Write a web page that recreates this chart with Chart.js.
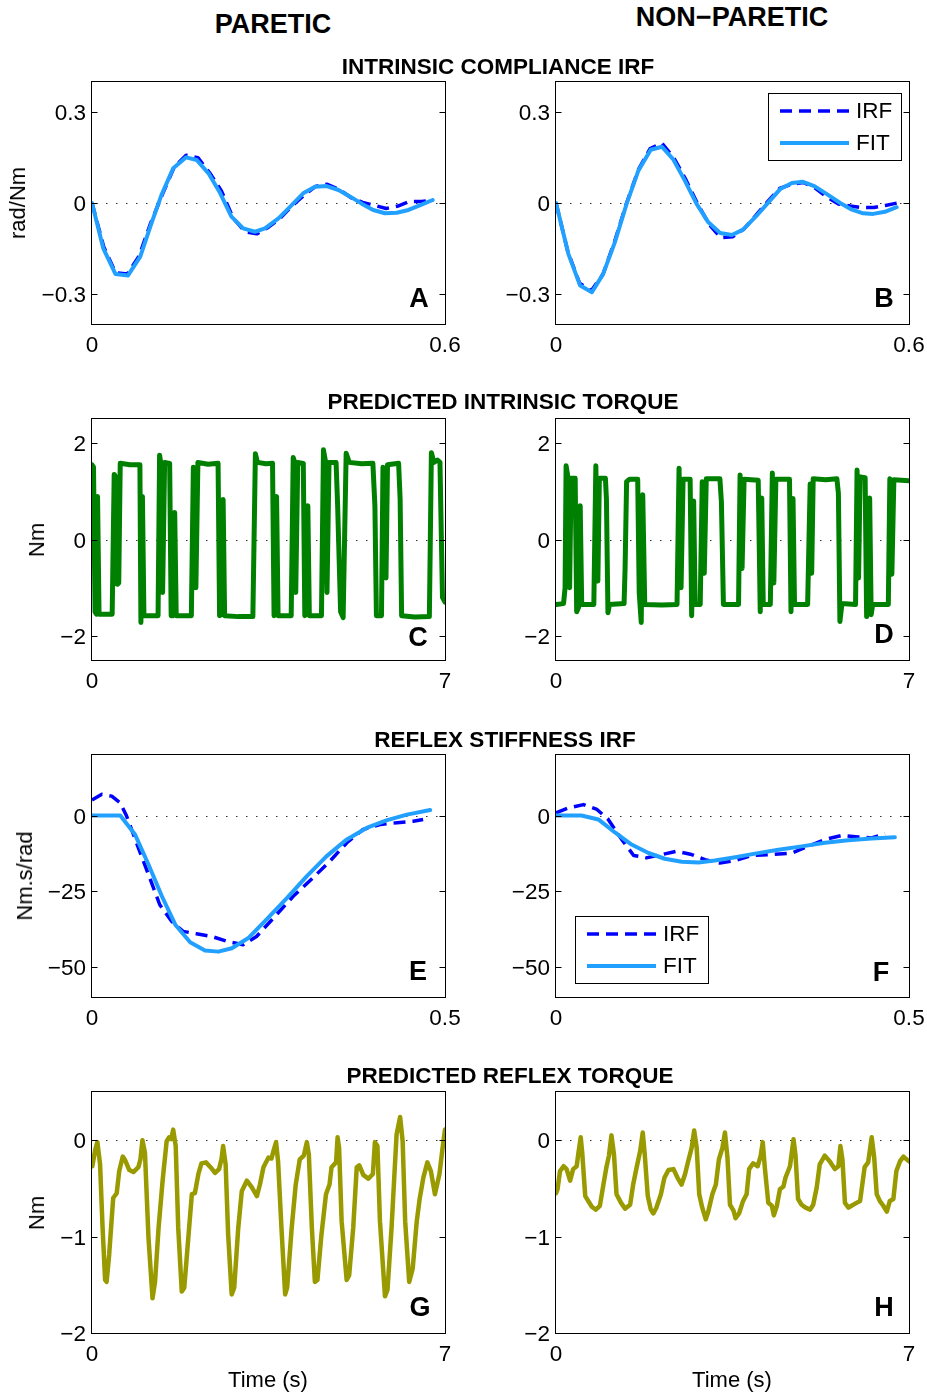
<!DOCTYPE html>
<html><head><meta charset="utf-8">
<script src="https://cdn.jsdelivr.net/npm/chart.js@4.4.1/dist/chart.umd.min.js"></script>
<style>
body{margin:0;background:#fff;width:927px;height:1393px;position:relative;overflow:hidden;font-family:"Liberation Sans",Arial,Helvetica,sans-serif;}
canvas{position:absolute;}
.t{position:absolute;transform:translate(-50%,-50%);white-space:nowrap;color:#000;line-height:1;font-size:22px;z-index:2;}
.b{font-weight:bold;}
.big{font-size:27px;}
.rt{font-size:22.5px;}
.r{transform:translate(-50%,-50%) rotate(-90deg);}
</style></head><body>
<div class="t b big" style="left:273px;top:24px">PARETIC</div>
<div class="t b big" style="left:732px;top:17px">NON&#8722;PARETIC</div>
<div class="t b rt" style="left:498px;top:67px">INTRINSIC COMPLIANCE IRF</div>
<div class="t b rt" style="left:503px;top:402px">PREDICTED INTRINSIC TORQUE</div>
<div class="t b rt" style="left:505px;top:740px">REFLEX STIFFNESS IRF</div>
<div class="t b rt" style="left:510px;top:1076px">PREDICTED REFLEX TORQUE</div>
<div class="t r" style="left:18px;top:203px">rad/Nm</div>
<div class="t r" style="left:37px;top:540px">Nm</div>
<div class="t r" style="left:25px;top:876px">Nm.s/rad</div>
<div class="t r" style="left:37px;top:1213px">Nm</div>
<div class="t" style="left:268px;top:1380px">Time (s)</div>
<div class="t" style="left:732px;top:1380px">Time (s)</div>
<div class="t b big" style="left:419px;top:298px">A</div>
<div class="t b big" style="left:884px;top:298px">B</div>
<div class="t b big" style="left:418px;top:637px">C</div>
<div class="t b big" style="left:884px;top:634px">D</div>
<div class="t b big" style="left:418px;top:971px">E</div>
<div class="t b big" style="left:881px;top:972px">F</div>
<div class="t b big" style="left:420px;top:1307px">G</div>
<div class="t b big" style="left:884px;top:1307px">H</div>
<script>
// ---------- DATA ----------
const aIrfT=[0,0.02,0.04,0.06,0.08,0.10,0.12,0.14,0.16,0.18,0.20,0.22,0.24,0.26,0.28,0.30,0.32,0.34,0.36,0.38,0.40,0.42,0.44,0.46,0.48,0.50,0.52,0.54,0.56,0.58];
const aIrfV=[0,-0.145,-0.230,-0.235,-0.175,-0.065,0.030,0.120,0.158,0.150,0.100,0.040,-0.050,-0.095,-0.102,-0.080,-0.050,-0.010,0.025,0.055,0.062,0.045,0.018,0.002,-0.008,-0.018,-0.010,0.005,0.005,0.010];
const aFitT=[0,0.019,0.040,0.061,0.082,0.101,0.118,0.138,0.160,0.178,0.198,0.218,0.237,0.257,0.277,0.294,0.317,0.337,0.359,0.379,0.399,0.419,0.439,0.459,0.478,0.498,0.518,0.538,0.558,0.579];
const aFitV=[0,-0.149,-0.235,-0.240,-0.177,-0.067,0.026,0.115,0.151,0.142,0.098,0.032,-0.045,-0.084,-0.095,-0.084,-0.051,-0.012,0.032,0.054,0.056,0.043,0.021,-0.003,-0.023,-0.034,-0.032,-0.023,-0.007,0.010];

const bIrfT=[0,0.02,0.04,0.06,0.08,0.10,0.12,0.14,0.16,0.18,0.20,0.22,0.24,0.26,0.28,0.30,0.32,0.34,0.36,0.38,0.40,0.42,0.44,0.46,0.48,0.50,0.52,0.54,0.56,0.58];
const bIrfV=[0,-0.160,-0.265,-0.290,-0.235,-0.125,0.000,0.110,0.180,0.198,0.150,0.080,0.000,-0.070,-0.115,-0.112,-0.085,-0.040,0.005,0.048,0.062,0.068,0.050,0.020,-0.003,-0.010,-0.015,-0.015,-0.008,0.000];
const bFitT=[0,0.021,0.041,0.061,0.080,0.100,0.120,0.140,0.161,0.180,0.199,0.219,0.239,0.259,0.279,0.299,0.318,0.341,0.361,0.381,0.401,0.420,0.440,0.463,0.483,0.503,0.522,0.539,0.559,0.579];
const bFitV=[0,-0.168,-0.273,-0.295,-0.235,-0.130,-0.003,0.107,0.176,0.186,0.145,0.074,-0.003,-0.064,-0.099,-0.106,-0.088,-0.042,0.002,0.046,0.066,0.070,0.055,0.026,0,-0.022,-0.034,-0.036,-0.029,-0.014];

const cT=[0.00,0.03,0.06,0.09,0.11,0.14,0.40,0.44,0.47,0.50,0.53,0.56,0.75,0.95,0.97,1.00,1.03,1.31,1.34,1.37,1.40,1.44,1.54,1.57,1.61,1.64,1.67,1.97,2.01,2.04,2.06,2.10,2.30,2.50,2.53,2.58,2.60,2.63,2.90,3.19,3.24,3.28,3.45,3.58,3.61,3.64,3.66,3.69,3.95,3.99,4.02,4.04,4.08,4.19,4.22,4.26,4.28,4.31,4.55,4.59,4.63,4.66,4.70,4.84,4.87,4.93,4.98,5.04,5.10,5.35,5.57,5.61,5.64,5.74,5.77,5.80,5.83,5.86,6.08,6.11,6.14,6.40,6.69,6.73,6.78,6.85,6.90,6.95,7.00];
const cV=[1.55,1.50,-1.50,-1.55,0.89,-1.55,-1.55,1.35,1.30,-0.93,-0.90,1.58,1.55,1.55,-1.72,0.89,-1.58,-1.58,1.75,1.55,-1.10,1.60,1.58,-1.58,-1.58,0.56,-1.58,-1.58,1.50,1.45,-1.00,1.60,1.56,1.58,-1.58,-1.55,0.83,-1.58,-1.60,-1.60,1.78,1.60,1.57,1.58,-1.58,-1.52,0.89,-1.58,-1.58,1.70,1.60,-1.10,1.60,1.58,-1.58,-1.52,0.70,-1.58,-1.58,1.86,1.62,-1.10,1.60,1.60,0.74,-1.50,-1.62,1.79,1.60,1.57,1.58,0.70,-1.58,-1.58,1.50,1.42,-0.80,1.55,1.58,0.85,-1.58,-1.61,-1.60,1.80,1.60,1.65,1.60,-1.20,-1.30];

const dT=[0.00,0.15,0.18,0.20,0.24,0.27,0.30,0.38,0.41,0.45,0.48,0.51,0.75,0.79,0.83,0.86,0.98,1.00,1.03,1.06,1.35,1.37,1.40,1.46,1.62,1.65,1.69,1.72,1.76,2.10,2.40,2.44,2.48,2.52,2.66,2.69,2.73,2.76,2.86,2.90,2.94,2.98,3.25,3.28,3.32,3.62,3.65,3.69,3.73,4.01,4.05,4.08,4.11,4.25,4.29,4.32,4.36,4.63,4.66,4.70,4.73,4.99,5.04,5.07,5.10,5.35,5.57,5.60,5.63,5.67,5.94,5.97,6.00,6.03,6.13,6.16,6.19,6.22,6.25,6.28,6.59,6.62,6.66,6.70,7.00];
const dV=[-1.35,-1.33,-1.00,1.53,1.27,-1.00,1.27,1.27,-1.50,-1.40,0.70,-1.35,-1.35,1.53,-0.86,1.27,1.27,0.84,-1.52,-1.35,-1.33,-0.60,1.20,1.25,1.25,-1.10,-1.72,0.93,-1.35,-1.36,-1.35,1.48,-1.00,1.25,1.25,-1.58,0.80,-1.35,-1.35,1.20,-0.70,1.26,1.26,0.78,-1.35,-1.35,1.34,-0.60,1.25,1.23,-1.50,0.86,-1.35,-1.35,1.38,-0.90,1.25,1.25,-1.50,0.85,-1.35,-1.35,1.15,-0.70,1.26,1.24,1.26,0.96,-1.70,-1.33,-1.35,1.44,-0.80,1.30,1.28,-1.60,-1.45,0.86,-1.56,-1.35,-1.35,1.26,-0.72,1.24,1.22];

const eIrfT=[0,0.014,0.028,0.040,0.049,0.063,0.080,0.096,0.113,0.129,0.148,0.170,0.191,0.214,0.233,0.257,0.285,0.313,0.337,0.361,0.384,0.408,0.432,0.455,0.469];
const eIrfV=[5.1,7.0,6.4,4.2,-0.2,-9.0,-19.5,-29.5,-35.0,-38.3,-39.1,-40.0,-41.6,-42.7,-40.0,-33.9,-26.7,-20.6,-15.1,-9.0,-4.6,-3.0,-2.4,-1.9,-1.3];
const eFitT=[0,0.040,0.061,0.080,0.099,0.118,0.139,0.160,0.179,0.198,0.221,0.247,0.276,0.304,0.332,0.361,0.389,0.417,0.446,0.479];
const eFitV=[0,0,-6.3,-16.2,-26.7,-36.1,-41.9,-44.6,-45.0,-43.9,-40.6,-34.4,-27.3,-20.1,-13.5,-7.9,-4.1,-1.6,0.3,1.8];

const fIrfT=[0,0.017,0.039,0.058,0.074,0.093,0.110,0.128,0.150,0.171,0.192,0.211,0.232,0.254,0.277,0.306,0.334,0.357,0.381,0.405,0.428,0.447,0.466];
const fIrfV=[0.9,2.5,3.6,2.0,-1.3,-7.9,-13.2,-14.0,-12.9,-11.8,-12.9,-14.6,-15.7,-14.9,-13.2,-12.9,-12.4,-10.2,-7.9,-6.6,-7.1,-7.4,-6.0];
const fFitT=[0,0.036,0.060,0.084,0.107,0.131,0.154,0.178,0.202,0.225,0.254,0.282,0.315,0.348,0.381,0.414,0.447,0.480];
const fFitV=[0,0,-1.3,-5.7,-9.6,-12.4,-14.3,-15.3,-15.5,-14.9,-13.8,-12.6,-11.3,-10.2,-9.0,-8.2,-7.6,-7.2];

const gT=[0.007,0.06,0.106,0.16,0.21,0.26,0.29,0.34,0.42,0.49,0.54,0.61,0.65,0.74,0.82,0.92,0.96,1.00,1.05,1.12,1.20,1.25,1.32,1.40,1.48,1.53,1.57,1.61,1.66,1.71,1.78,1.83,1.91,1.98,2.04,2.11,2.17,2.26,2.35,2.44,2.52,2.57,2.60,2.65,2.70,2.77,2.82,2.90,2.97,3.07,3.17,3.27,3.33,3.40,3.50,3.56,3.61,3.65,3.69,3.76,3.83,3.87,3.96,4.04,4.12,4.20,4.26,4.30,4.36,4.42,4.47,4.55,4.64,4.71,4.75,4.84,4.87,4.90,4.95,5.05,5.10,5.18,5.25,5.30,5.38,5.48,5.57,5.61,5.66,5.71,5.81,5.86,5.94,6.04,6.11,6.16,6.21,6.29,6.36,6.44,6.50,6.57,6.65,6.72,6.80,6.89,6.95,7.00];
const gV=[-0.27,-0.11,-0.02,-0.25,-0.91,-1.45,-1.47,-1.19,-0.60,-0.55,-0.32,-0.17,-0.20,-0.31,-0.33,-0.28,-0.20,0.00,-0.13,-1.01,-1.64,-1.47,-0.91,-0.42,-0.01,0.03,0.01,0.11,-0.06,-0.91,-1.57,-1.53,-1.01,-0.56,-0.55,-0.35,-0.24,-0.23,-0.28,-0.34,-0.30,-0.19,-0.06,-0.25,-0.98,-1.60,-1.53,-0.91,-0.53,-0.42,-0.49,-0.58,-0.46,-0.28,-0.18,-0.19,-0.09,-0.02,-0.22,-0.94,-1.60,-1.53,-0.91,-0.46,-0.20,-0.16,-0.02,-0.15,-0.91,-1.47,-1.45,-0.98,-0.56,-0.46,-0.28,-0.23,0.03,-0.08,-0.84,-1.45,-1.40,-0.91,-0.28,-0.26,-0.36,-0.40,-0.35,-0.02,-0.06,-0.84,-1.62,-1.55,-0.91,0.06,0.24,-0.01,-0.84,-1.47,-1.33,-0.84,-0.60,-0.39,-0.23,-0.32,-0.56,-0.35,-0.09,0.11];

const hT=[0.00,0.03,0.08,0.15,0.21,0.28,0.34,0.41,0.44,0.49,0.52,0.58,0.64,0.71,0.79,0.87,0.94,1.00,1.05,1.10,1.15,1.20,1.29,1.37,1.47,1.53,1.60,1.67,1.72,1.76,1.82,1.88,1.93,1.99,2.08,2.15,2.23,2.33,2.41,2.49,2.56,2.62,2.69,2.74,2.79,2.84,2.90,2.97,3.02,3.10,3.17,3.23,3.30,3.35,3.40,3.45,3.52,3.56,3.63,3.71,3.78,3.83,3.91,4.00,4.06,4.10,4.14,4.21,4.28,4.32,4.38,4.44,4.51,4.55,4.64,4.71,4.75,4.80,4.87,4.95,5.04,5.10,5.17,5.23,5.33,5.43,5.53,5.60,5.64,5.68,5.73,5.80,5.86,5.96,6.03,6.12,6.19,6.26,6.31,6.36,6.42,6.49,6.56,6.62,6.69,6.75,6.82,6.89,7.00];
const hV=[-0.55,-0.51,-0.32,-0.27,-0.30,-0.42,-0.30,-0.27,-0.15,0.03,-0.13,-0.58,-0.63,-0.69,-0.72,-0.68,-0.46,-0.28,-0.16,0.05,-0.15,-0.56,-0.65,-0.71,-0.67,-0.46,-0.28,-0.11,0.08,-0.15,-0.58,-0.72,-0.76,-0.70,-0.56,-0.39,-0.31,-0.30,-0.39,-0.46,-0.35,-0.22,-0.08,0.10,-0.08,-0.56,-0.70,-0.82,-0.74,-0.56,-0.46,-0.20,-0.08,0.08,-0.18,-0.67,-0.73,-0.81,-0.76,-0.63,-0.56,-0.30,-0.24,-0.27,-0.16,-0.02,-0.28,-0.65,-0.68,-0.78,-0.68,-0.51,-0.48,-0.39,-0.27,0.01,-0.16,-0.61,-0.67,-0.70,-0.72,-0.67,-0.49,-0.25,-0.16,-0.22,-0.30,-0.27,-0.06,-0.20,-0.65,-0.70,-0.68,-0.65,-0.63,-0.28,-0.23,0.03,-0.18,-0.56,-0.63,-0.68,-0.74,-0.63,-0.61,-0.32,-0.22,-0.17,-0.22];

const xTicksIRF1=[0,0.6], xTicksTorque=[0,7], xTicksIRF2=[0,0.5];
const yTicksA=[-0.3,0,0.3], yTicksC=[-2,0,2], yTicksE=[-50,-25,0], yTicksG=[-2,-1,0];

// ---------- DRAWING ----------
const IRF_COLOR='#0000ff', FIT_COLOR='#22a0ff', GREEN='#008000', OLIVE='#999900';
Chart.defaults.font.family='"Liberation Sans", Arial, Helvetica, sans-serif';
Chart.defaults.font.size=22.5;
Chart.defaults.color='#000';

function pts(t,v){return t.map((x,i)=>({x:x,y:v[i]}));}
function fmt(v){const n=Number(Math.abs(v).toFixed(3)).toString();return v<0?'\u2212'+n:n;}

const framePlugin={id:'frame',
  beforeDatasetsDraw(chart,args,opts){
    const {ctx,chartArea:a,scales:{y}}=chart;
    const y0=Math.round(y.getPixelForValue(0))+0.5;
    ctx.save();ctx.strokeStyle='#333';ctx.lineWidth=1;ctx.setLineDash([1.5,8.5]);
    ctx.beginPath();ctx.moveTo(a.left+4,y0);ctx.lineTo(a.right,y0);ctx.stroke();ctx.restore();
  },
  afterDatasetsDraw(chart,args,opts){
    const {ctx,chartArea:a,scales:{y}}=chart;
    ctx.save();ctx.strokeStyle='#000';ctx.lineWidth=1;ctx.setLineDash([]);
    const L=Math.round(a.left)-0.5,T=Math.round(a.top)-0.5,R=Math.round(a.right)+0.5,B=Math.round(a.bottom)+0.5;
    ctx.strokeRect(L,T,R-L,B-T);
    ctx.beginPath();
    (opts.yTicks||[]).forEach(v=>{const p=Math.round(y.getPixelForValue(v))+0.5;ctx.moveTo(L,p);ctx.lineTo(L+6,p);ctx.moveTo(R-6,p);ctx.lineTo(R,p);});
    ctx.stroke();
    const lg=opts.legend;
    if(lg){
      const bw=133,bh=67;
      const bx=Math.round(lg.right!==undefined?a.right-lg.right-bw:a.left+lg.left);
      const by=Math.round(lg.top!==undefined?a.top+lg.top:a.bottom-lg.bottom-bh);
      ctx.fillStyle='#fff';ctx.fillRect(bx,by,bw,bh);
      ctx.strokeRect(bx+0.5,by+0.5,bw,bh);
      chart.data.datasets.forEach((d,i)=>{
        const ly=by+18+32*i;
        ctx.save();ctx.strokeStyle=d.borderColor;ctx.lineWidth=d.borderWidth;ctx.setLineDash(d.borderDash||[]);
        ctx.beginPath();ctx.moveTo(bx+12,ly);ctx.lineTo(bx+81,ly);ctx.stroke();ctx.restore();
        ctx.fillStyle='#000';ctx.font='22.5px "Liberation Sans", Arial, sans-serif';ctx.textBaseline='middle';ctx.textAlign='left';
        ctx.fillText(d.label,bx+88,ly+1);
      });
    }
    ctx.restore();
  }
};

const PADL=80,PADT=25,PADR=30,PADB=45;
function makePanel(box,xMax,yMin,yMax,xTicks,yTicks,datasets,legend){
  const c=document.createElement('canvas');
  const w=box[2]-box[0],h=box[3]-box[1];
  c.width=w+PADL+PADR;c.height=h+PADT+PADB;
  c.style.left=(box[0]-PADL)+'px';c.style.top=(box[1]-PADT)+'px';
  document.body.appendChild(c);
  new Chart(c,{type:'line',data:{datasets:datasets},options:{
    responsive:false,animation:false,devicePixelRatio:1,
    layout:{padding:{left:0,top:PADT,right:PADR,bottom:0}},
    elements:{point:{radius:0},line:{tension:0}},
    plugins:{legend:{display:false},tooltip:{enabled:false},frame:{yTicks:yTicks,legend:legend}},
    scales:{
      x:{type:'linear',min:0,max:xMax,afterFit:s=>{s.height=PADB;},afterBuildTicks:s=>{s.ticks=xTicks.map(v=>({value:v}));},
         grid:{display:false,drawTicks:false},border:{display:false},
         ticks:{padding:8,maxRotation:0,autoSkip:false,callback:fmt}},
      y:{type:'linear',min:yMin,max:yMax,afterFit:s=>{s.width=PADL;},afterBuildTicks:s=>{s.ticks=yTicks.map(v=>({value:v}));},
         grid:{display:false,drawTicks:false},border:{display:false},
         ticks:{padding:6,labelOffset:2,autoSkip:false,callback:fmt}}
    }},plugins:[framePlugin]});
}
function irfSets(it,iv,ft,fv){
  return [
    {label:'IRF',data:pts(it,iv),borderColor:IRF_COLOR,borderWidth:3.5,borderDash:[12,7],borderJoinStyle:'round',order:1,fill:false},
    {label:'FIT',data:pts(ft,fv),borderColor:FIT_COLOR,borderWidth:4,borderJoinStyle:'round',borderCapStyle:'round',order:0,fill:false}
  ];
}
function oneSet(t,v,col,w){return [{label:'',data:pts(t,v),borderColor:col,borderWidth:w,borderJoinStyle:'round',borderCapStyle:'round',fill:false}];}

makePanel([92,82,445,324],0.6,-0.4,0.4,xTicksIRF1,yTicksA,irfSets(aIrfT,aIrfV,aFitT,aFitV),null);
makePanel([556,82,909,324],0.6,-0.4,0.4,xTicksIRF1,yTicksA,irfSets(bIrfT,bIrfV,bFitT,bFitV),{right:8,top:11});
makePanel([92,419,445,660],7,-2.5,2.5,xTicksTorque,yTicksC,oneSet(cT,cV,GREEN,5),null);
makePanel([556,419,909,660],7,-2.5,2.5,xTicksTorque,yTicksC,oneSet(dT,dV,GREEN,5),null);
makePanel([92,755,445,997],0.5,-60,20,xTicksIRF2,yTicksE,irfSets(eIrfT,eIrfV,eFitT,eFitV),null);
makePanel([556,755,909,997],0.5,-60,20,xTicksIRF2,yTicksE,irfSets(fIrfT,fIrfV,fFitT,fFitV),{left:19,bottom:14});
makePanel([92,1092,445,1333],7,-2,0.5,xTicksTorque,yTicksG,oneSet(gT,gV,OLIVE,4.5),null);
makePanel([556,1092,909,1333],7,-2,0.5,xTicksTorque,yTicksG,oneSet(hT,hV,OLIVE,4.5),null);
</script>
</body></html>
